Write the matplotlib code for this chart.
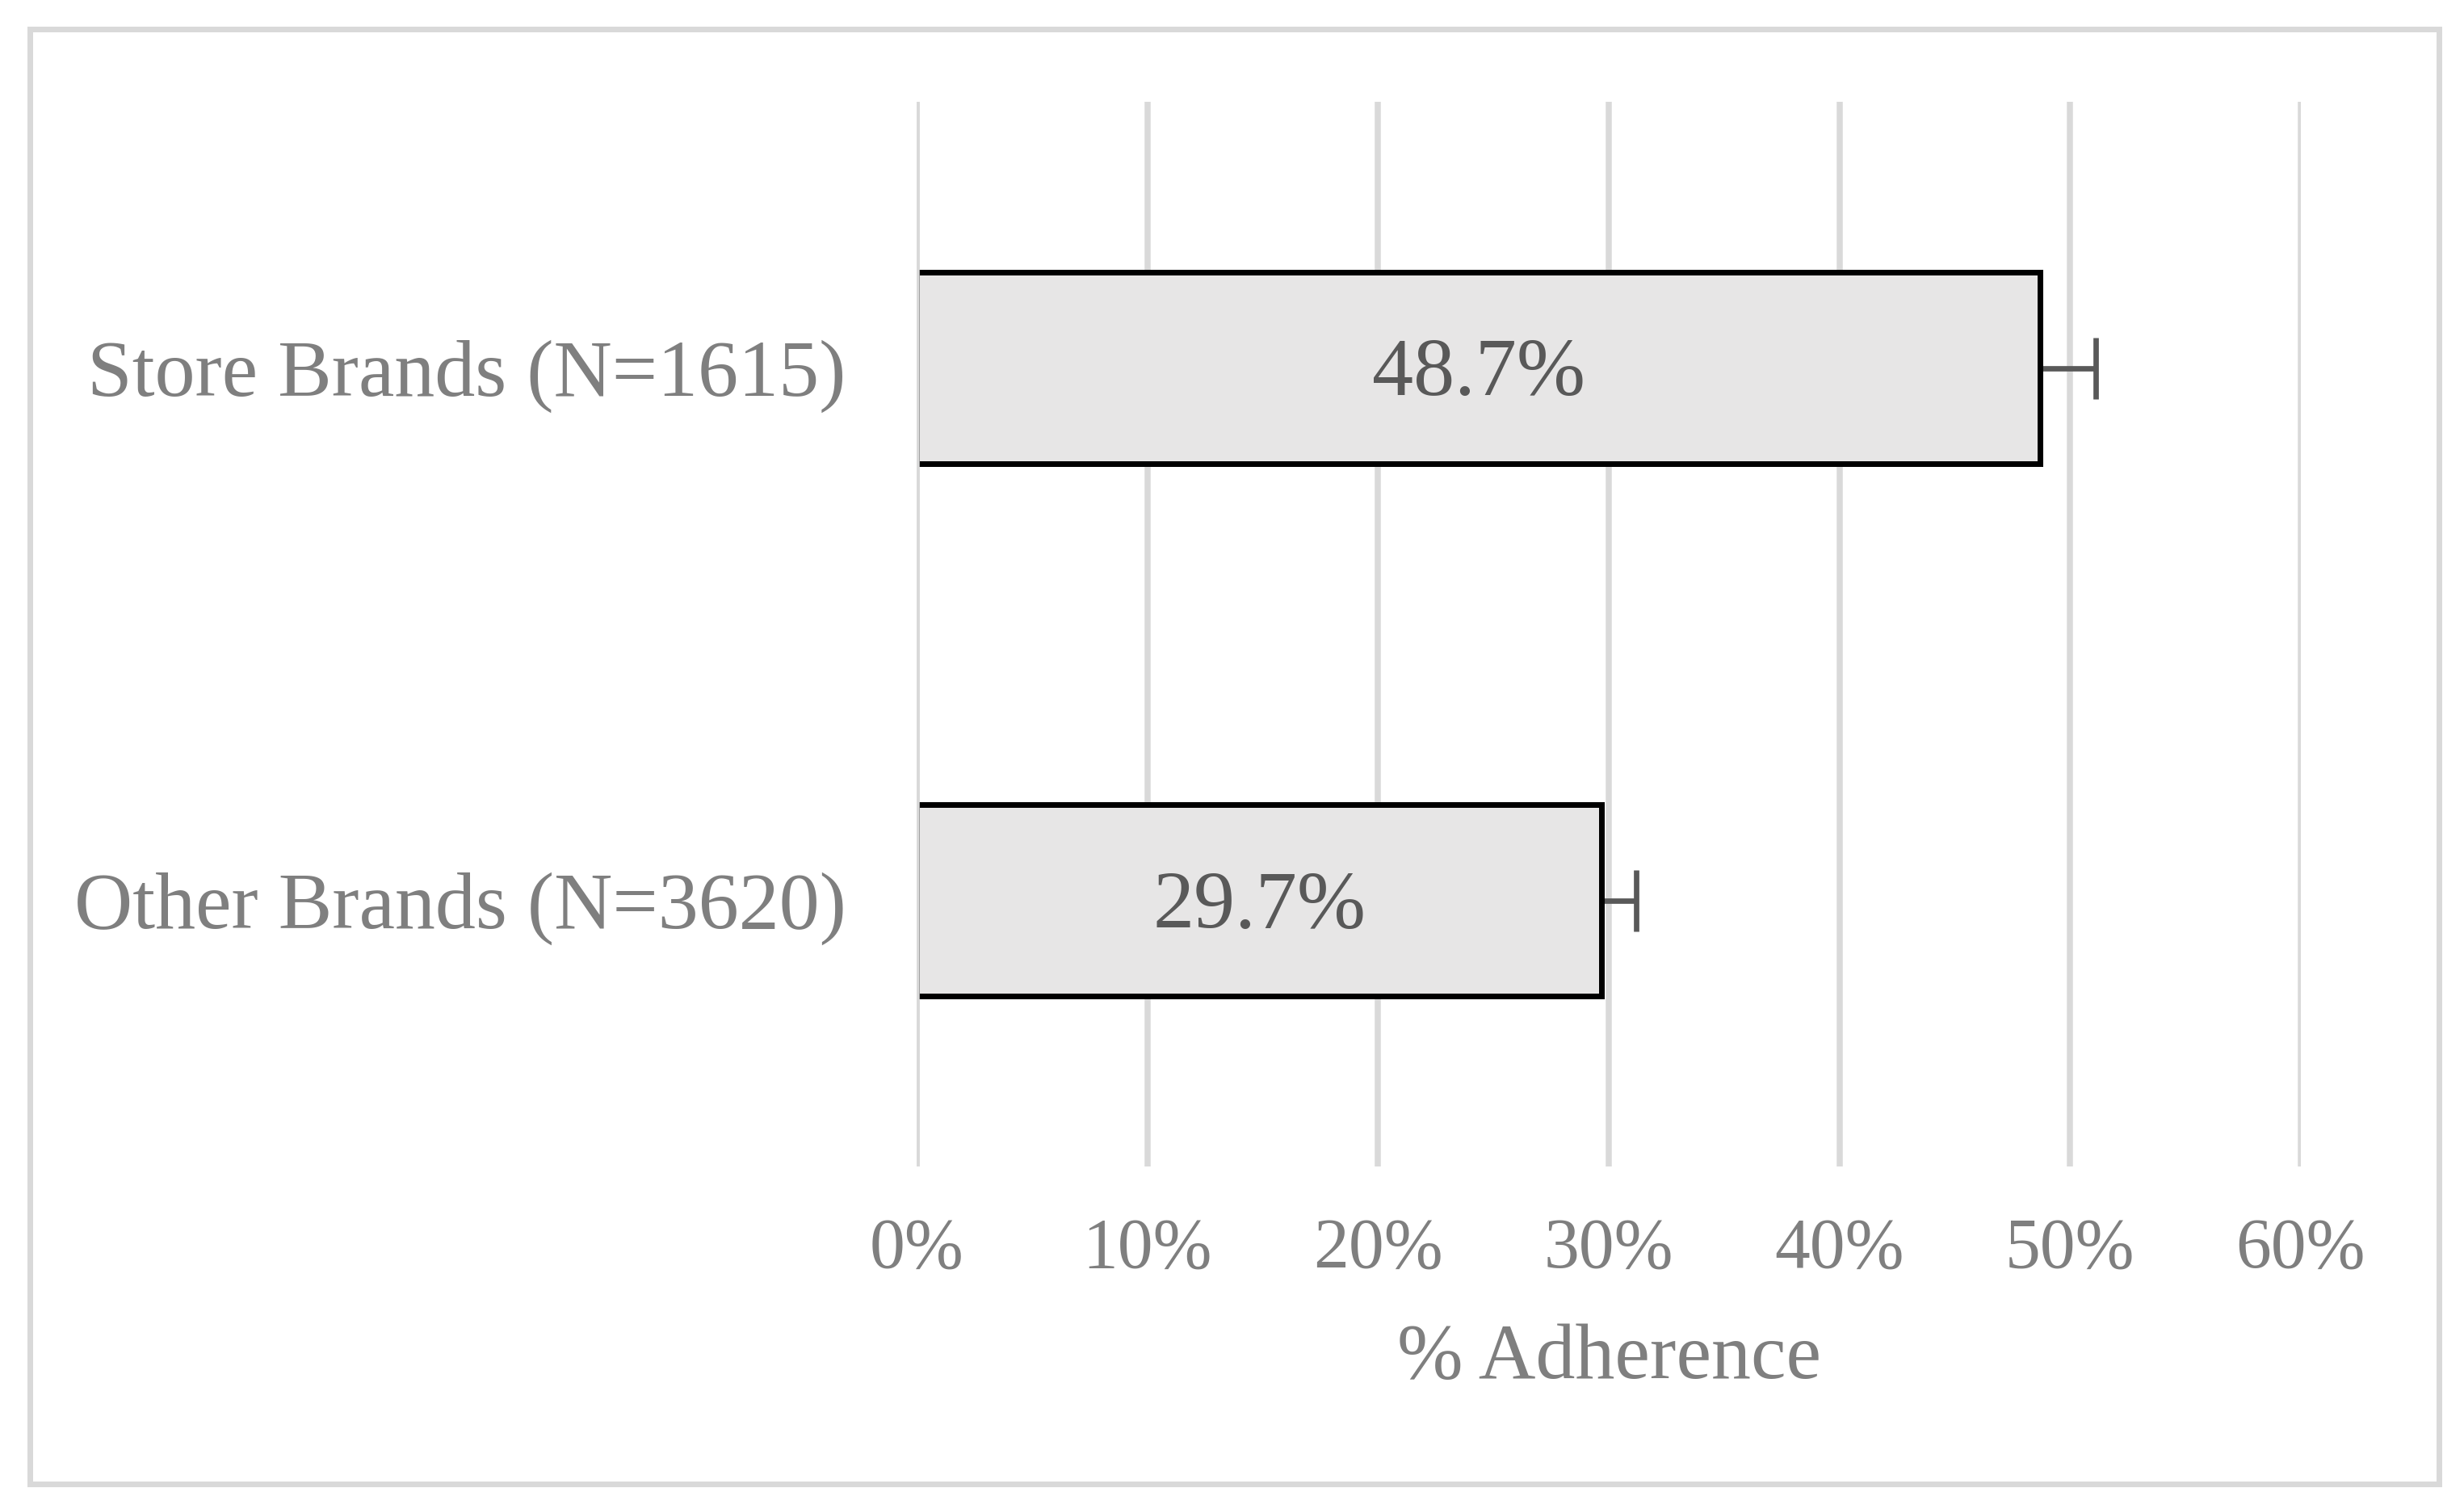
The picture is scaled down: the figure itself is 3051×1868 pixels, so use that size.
#!/usr/bin/env python3
"""Horizontal bar chart: % adherence, store brands vs other brands."""

import matplotlib

matplotlib.use("Agg")

import matplotlib.pyplot as plt
from matplotlib.patches import Rectangle
from matplotlib.ticker import FuncFormatter

CATEGORIES = ["Store Brands (N=1615)", "Other Brands (N=3620)"]
ADHERENCE = [48.7, 29.7]
ERROR_PLUS = [2.4, 1.5]
VALUE_LABELS = ["48.7%", "29.7%"]
X_TICKS = [0, 10, 20, 30, 40, 50, 60]
X_LABEL = "% Adherence"

W_PX, H_PX, DPI = 3051, 1868, 300
PX = 72 / DPI  # one output pixel in points

GRID = "#d9d9d9"
TEXT = "#7f7f7f"
DARK = "#595959"
FILL = "#e7e6e6"

plt.rcParams["font.family"] = ["Liberation Serif", "DejaVu Serif"]


def main() -> None:
    fig = plt.figure(figsize=(W_PX / DPI, H_PX / DPI), dpi=DPI)
    ax = fig.add_axes([1135 / W_PX, 1 - 1444 / H_PX, (2849 - 1135) / W_PX, (1444 - 126) / H_PX])

    ypos = list(range(len(CATEGORIES)))
    for x in X_TICKS:
        ax.axvline(x, color=GRID, lw=7.5 * PX, zorder=0)

    ax.errorbar(
        ADHERENCE, ypos,
        xerr=[[0] * len(ERROR_PLUS), ERROR_PLUS],
        fmt="none", ecolor=DARK, elinewidth=6.7 * PX,
        capsize=38 * PX, capthick=6.7 * PX, zorder=1,
    )
    ax.barh(ypos, ADHERENCE, height=0.36, color=FILL, edgecolor="black",
            linewidth=7 * PX, zorder=2)
    # vertical axis line sits on top of the bars' left edges
    ax.axvline(0, color=GRID, lw=7.5 * PX, zorder=3)

    for y, v, lab in zip(ypos, ADHERENCE, VALUE_LABELS):
        ax.annotate(lab, (v / 2, y), xytext=(0, -34 * PX), textcoords="offset points",
                    ha="center", va="baseline", fontsize=24.5, color=DARK, zorder=4)

    ax.set_xlim(X_TICKS[0], X_TICKS[-1])
    ax.set_ylim(len(CATEGORIES) - 0.5, -0.5)
    ax.set_xticks(X_TICKS)
    ax.xaxis.set_major_formatter(FuncFormatter(lambda v, _: f"{v:.0f}%"))
    ax.set_yticks(ypos)
    ax.set_yticklabels(CATEGORIES)
    ax.tick_params(axis="x", length=0, pad=15, labelsize=21, labelcolor=TEXT)
    ax.tick_params(axis="y", length=0, pad=21, labelsize=24, labelcolor=TEXT)
    ax.set_xlabel(X_LABEL, fontsize=23.5, color=TEXT, labelpad=12)
    for side in ax.spines.values():
        side.set_visible(False)
    ax.set_facecolor("none")

    # light grey chart-area border
    fig.patches.append(Rectangle(
        (37 / W_PX, 1 - 1837 / H_PX), (3020 - 37) / W_PX, (1837 - 36) / H_PX,
        transform=fig.transFigure, fill=False, edgecolor=GRID, linewidth=7 * PX,
    ))

    fig.savefig("out.png", dpi=DPI, facecolor="white")
    plt.close(fig)


if __name__ == "__main__":
    main()
